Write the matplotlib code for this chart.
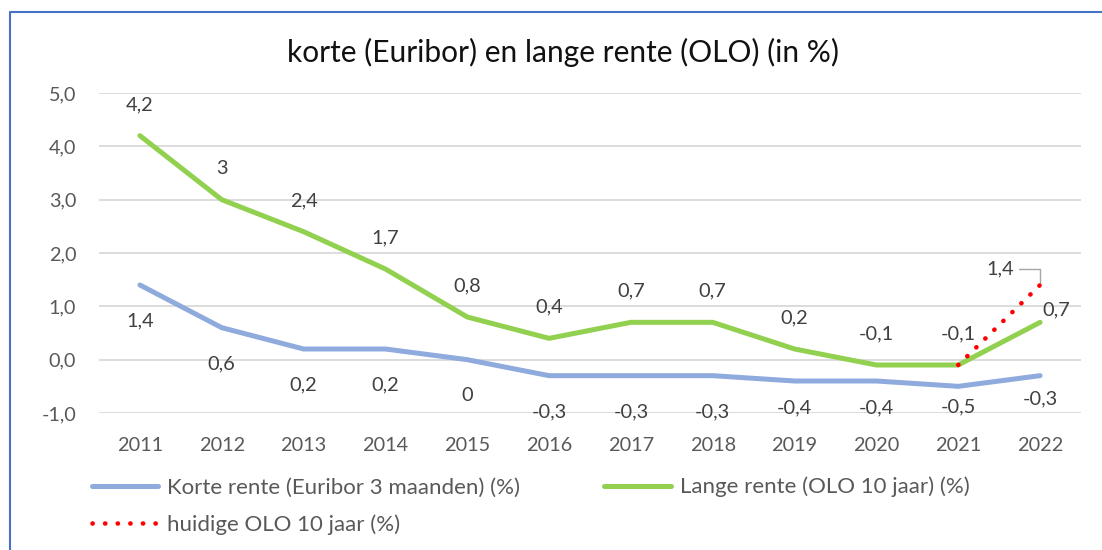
import matplotlib.pyplot as plt
from matplotlib.lines import Line2D
import numpy as np

years = ['2011', '2012', '2013', '2014', '2015', '2016',
         '2017', '2018', '2019', '2020', '2021', '2022']
korte = [1.4, 0.6, 0.2, 0.2, 0, -0.3, -0.3, -0.3, -0.4, -0.4, -0.5, -0.3]
lange = [4.2, 3, 2.4, 1.7, 0.8, 0.4, 0.7, 0.7, 0.2, -0.1, -0.1, 0.7]
huidige = [np.nan] * 10 + [-0.1, 1.4]
y_ticks = [-1, 0, 1, 2, 3, 4, 5]

# label offsets in pixels (dx, dy), as placed in the original chart
korte_off = [(0, -36)] * 8 + [(0, -27), (0, -27), (0, -21), (0, -23)]
lange_off = [(0, 31)] * 11 + [(16, 12)]

plt.rcParams['font.family'] = ['Lato', 'DejaVu Sans']

c_korte = '#8faadc'
c_lange = '#92d050'
c_red = '#ff0000'
txt = '#404040'


def fmt(v):
    return f'{v:g}'.replace('.', ',')


fig = plt.figure(figsize=(11.02, 5.5), dpi=100)
W, H = 1102, 550
ax = fig.add_axes([99 / W, 1 - 413 / H, (1081 - 99) / W, (413 - 93) / H])

x = np.arange(len(years))
ax.plot(x, korte, color=c_korte, lw=3.6, solid_capstyle='round', solid_joinstyle='round',
        label='Korte rente (Euribor 3 maanden) (%)', zorder=3)
ax.plot(x, lange, color=c_lange, lw=3.6, solid_capstyle='round', solid_joinstyle='round',
        label='Lange rente (OLO 10 jaar) (%)', zorder=3)
ax.plot(x, huidige, color=c_red, lw=3.3, linestyle=(0, (0.05, 2.7)), dash_capstyle='round',
        label='huidige OLO 10 jaar (%)', zorder=4)

for i, v in enumerate(korte):
    ax.annotate(fmt(v), (x[i], v), xytext=korte_off[i], textcoords='offset pixels',
                ha='center', va='center', fontsize=14.4, color=txt)
for i, v in enumerate(lange):
    ax.annotate(fmt(v), (x[i], v), xytext=lange_off[i], textcoords='offset pixels',
                ha='center', va='center', fontsize=14.4, color=txt)

# last value of the current OLO with a leader line
ax.annotate(fmt(huidige[-1]), (x[-1], huidige[-1]), xytext=(-40, 16), textcoords='offset pixels',
            ha='center', va='center', fontsize=14.4, color=txt,
            arrowprops=dict(arrowstyle='-', color='#a6a6a6', lw=1,
                            connectionstyle='angle,angleA=0,angleB=90,rad=0',
                            shrinkA=2, shrinkB=0))

ax.set_xlim(-0.5, len(years) - 0.5)
ax.set_ylim(-1, 5)
ax.set_xticks(x)
ax.set_xticklabels(years)
ax.set_yticks(y_ticks)
ax.set_yticklabels([f'{t:.1f}'.replace('.', ',') for t in y_ticks])
ax.tick_params(axis='both', length=0, labelsize=14.3, labelcolor='#595959')
ax.tick_params(axis='y', pad=16.5)
ax.tick_params(axis='x', pad=17)
ax.grid(axis='y', color='#d9d9d9', lw=1.3)
ax.set_axisbelow(True)
for s in ax.spines.values():
    s.set_visible(False)

fig.text(563 / W, 1 - 52 / H, 'korte (Euribor) en lange rente (OLO) (in %)',
         ha='center', va='center', fontsize=21.5, color='#111111')

h, l = ax.get_legend_handles_labels()
leg_kw = dict(frameon=False, fontsize=16, handlelength=3.0, handletextpad=0.4,
              labelspacing=0.72, borderpad=0, borderaxespad=0, labelcolor='#595959')
fig.legend([h[0], h[2]], [l[0], l[2]], loc='center left',
           bbox_to_anchor=(91.5 / W, 1 - 506.5 / H), **leg_kw)
fig.legend([h[1]], [l[1]], loc='center left',
           bbox_to_anchor=(604.5 / W, 1 - 487 / H), **leg_kw)

# chart frame (cut off at right and bottom)
fig.add_artist(Line2D([10 / W, 10 / W, 1.0], [0, 1 - 12 / H, 1 - 12 / H],
                      transform=fig.transFigure, color='#4472c4', lw=1.5))

fig.savefig('out.png', dpi=100)
